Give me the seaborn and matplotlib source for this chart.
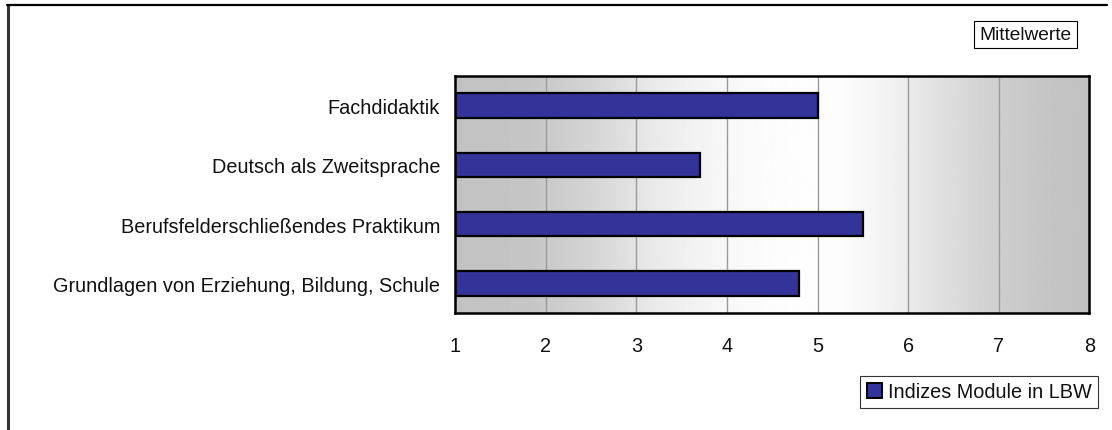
import matplotlib
matplotlib.use("Agg")
import matplotlib.pyplot as plt
from matplotlib.lines import Line2D
from matplotlib.patches import Patch
import seaborn as sns
import numpy as np
import pandas as pd

modules = [
    "Fachdidaktik",
    "Deutsch als Zweitsprache",
    "Berufsfelderschließendes Praktikum",
    "Grundlagen von Erziehung, Bildung, Schule",
]
means = [5.0, 3.7, 5.5, 4.8]
series_name = "Indizes Module in LBW"
x_ticks = [1, 2, 3, 4, 5, 6, 7, 8]

sns.set_style("white")
plt.rcParams["font.family"] = ["Liberation Sans", "DejaVu Sans"]

df = pd.DataFrame({"modul": modules, "wert": means})

fig = plt.figure(figsize=(11.12, 4.31), dpi=100)
ax = fig.add_axes([455.3 / 1112, 1 - 314.3 / 431, 634 / 1112, 237.6 / 431])

sns.barplot(data=df, x="wert", y="modul", orient="h", color="#333399",
            saturation=1, edgecolor="black", linewidth=1.6, width=0.41,
            ax=ax, zorder=3)

# grey -> white -> grey background like the old office chart
gx = np.linspace(1, 8, 700)
shade = np.interp(gx, [1, 1.8, 2.5, 3.2, 4.0, 4.8, 5.3, 5.8, 6.3, 7.0, 7.6, 8],
                  [194, 197, 212, 234, 248, 254, 252, 242, 226, 206, 196, 193]) / 255
img = np.tile(shade, (2, 1))
ax.imshow(img, cmap="gray", vmin=0, vmax=1, aspect="auto",
          extent=[1, 8, 3.5, -0.5], zorder=0, interpolation="bilinear")

ax.set_xlim(1, 8)
ax.set_ylim(3.5, -0.5)
ax.set_xticks(x_ticks)
for xv in x_ticks[1:-1]:
    ax.axvline(xv, color="#9a9a9a", lw=1.0, zorder=1)

ax.set_xlabel("")
ax.set_ylabel("")
ax.tick_params(axis="both", length=0, labelsize=14.3, colors="#111111")
ax.tick_params(axis="x", pad=16.5)
ax.tick_params(axis="y", pad=11)
for sp in ax.spines.values():
    sp.set_visible(True)
    sp.set_color("black")
    sp.set_linewidth(1.8)
    sp.set_zorder(4)

# partial outer frame (left + top)
fig.add_artist(Line2D([8 / 1112, 8 / 1112], [0, 1 - 6 / 431], color="#333333", lw=2.2))
fig.add_artist(Line2D([7 / 1112, 1107 / 1112], [1 - 6 / 431, 1 - 6 / 431], color="black", lw=1.6))

fig.text(1025.5 / 1112, 1 - 35.5 / 431, "Mittelwerte", ha="center", va="center",
         fontsize=13.8, color="#111111",
         bbox=dict(boxstyle="square,pad=0.26", fc="white", ec="black", lw=0.8))

handle = Patch(facecolor="#333399", edgecolor="black", linewidth=1.4)
leg = ax.legend([handle], [series_name], loc="center",
                bbox_to_anchor=(979 / 1112, 1 - 393 / 431), bbox_transform=fig.transFigure,
                frameon=True, fancybox=False, fontsize=14.3, handlelength=0.75,
                handleheight=0.75, handletextpad=0.3, borderpad=0.35, borderaxespad=0)
leg.get_frame().set_edgecolor("black")
leg.get_frame().set_linewidth(0.8)
for t in leg.get_texts():
    t.set_color("#111111")

fig.savefig("out.png", dpi=100, facecolor="white")
